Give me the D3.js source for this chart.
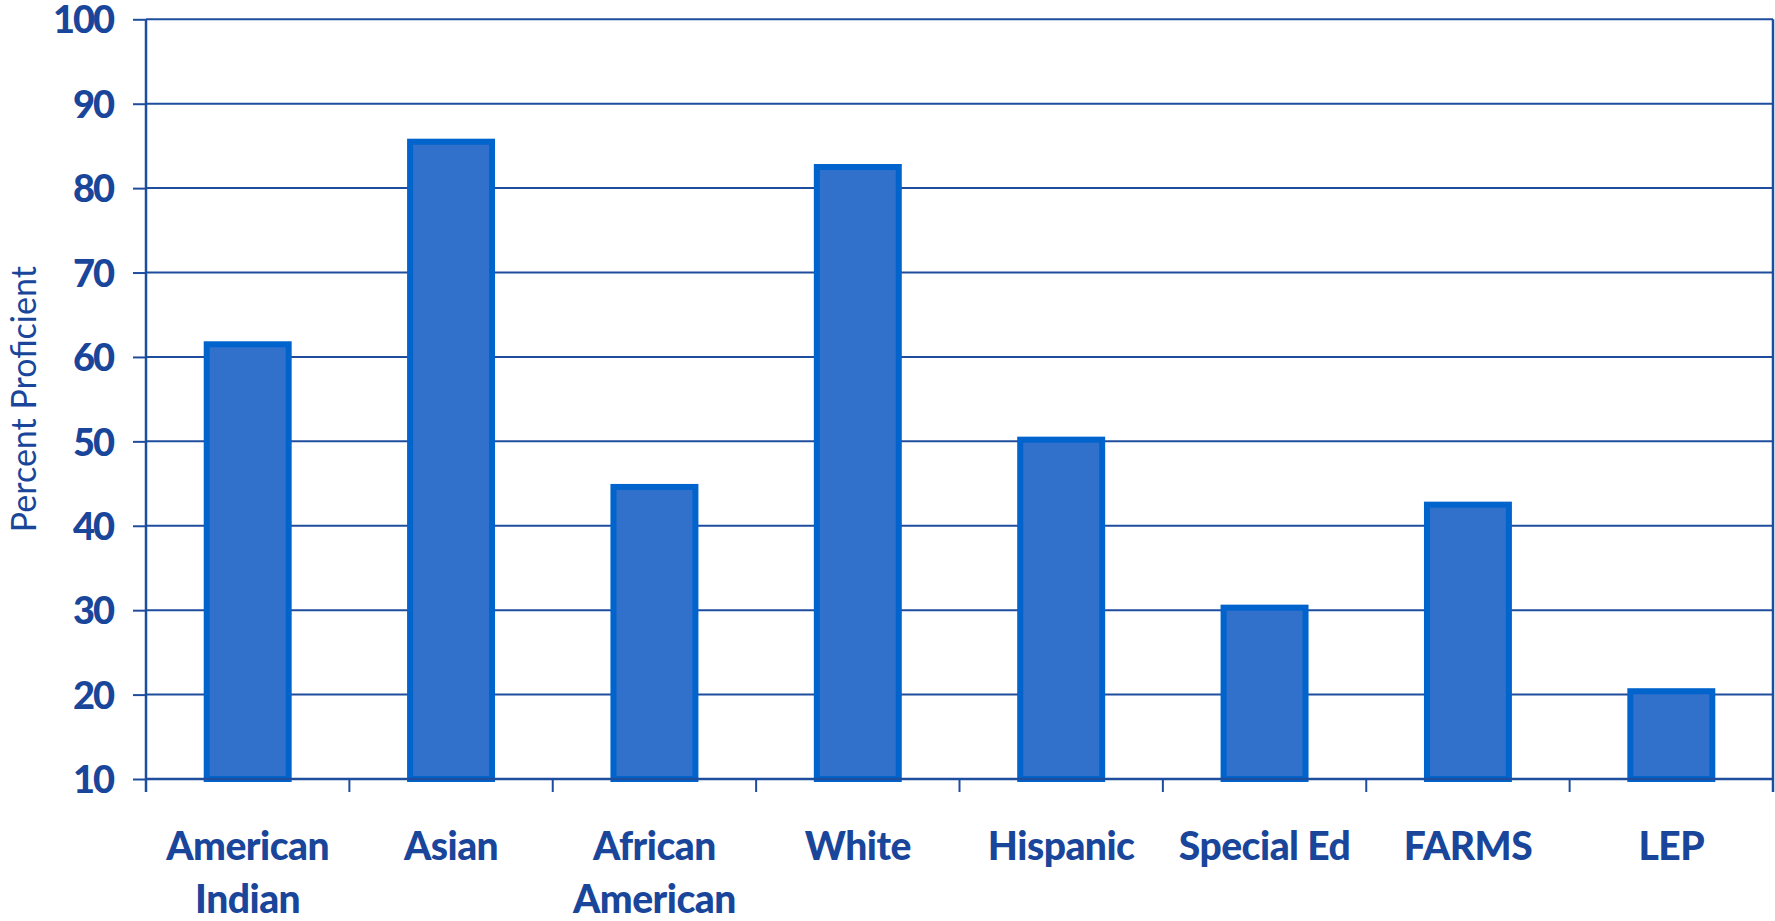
<!DOCTYPE html>
<html>
<head>
<meta charset="utf-8">
<script src="https://cdn.jsdelivr.net/npm/d3@7/dist/d3.min.js"></script>
<style>
  html, body { margin: 0; padding: 0; background: #ffffff; }
  svg { display: block; }
</style>
</head>
<body>
<svg id="chart" width="1775" height="921"></svg>
<script>
// Percent proficient by student group
const categories = [["American", "Indian"], ["Asian"], ["African", "American"], ["White"],
                    ["Hispanic"], ["Special Ed"], ["FARMS"], ["LEP"]];
const values = [61.5, 85.5, 44.6, 82.5, 50.2, 30.3, 42.5, 20.4];
const yTicks = [10, 20, 30, 40, 50, 60, 70, 80, 90, 100];
const yLabel = "Percent Proficient";

const ink = "#19469a";
const gridColor = "#1f4d9e";
const barFill = "#3170cb";
const barStroke = "#0064cc";
const fontFamily = "Lato, 'Open Sans', sans-serif";

const svg = d3.select("#chart");
const plotLeft = 146, plotRight = 1773, plotTop = 19.3, plotBottom = 779;
const keys = categories.map(c => c.join(" "));

const x = d3.scaleBand()
  .domain(keys)
  .range([plotLeft, plotRight])
  .paddingInner(0.597)
  .paddingOuter(0.2985);

const y = d3.scaleLinear()
  .domain([10, 100])
  .range([plotBottom, plotTop]);

// horizontal gridlines
svg.append("g")
  .selectAll("line")
  .data(yTicks)
  .join("line")
  .attr("x1", plotLeft).attr("x2", plotRight)
  .attr("y1", d => y(d)).attr("y2", d => y(d))
  .attr("stroke", gridColor).attr("stroke-width", 2);

// right border
svg.append("line")
  .attr("x1", plotRight).attr("x2", plotRight)
  .attr("y1", plotTop).attr("y2", plotBottom + 13)
  .attr("stroke", gridColor).attr("stroke-width", 2.5);

// bars
svg.append("g")
  .selectAll("rect")
  .data(values)
  .join("rect")
  .attr("x", (d, i) => x(keys[i]))
  .attr("width", x.bandwidth())
  .attr("y", d => y(d))
  .attr("height", d => y(10) - y(d))
  .attr("fill", barFill)
  .attr("stroke", barStroke)
  .attr("stroke-width", 6);

// y axis
const yAxis = svg.append("g")
  .attr("transform", `translate(${plotLeft},0)`)
  .call(d3.axisLeft(y).tickValues(yTicks).tickSize(13).tickPadding(20).tickFormat(d3.format("d")));
yAxis.select(".domain").attr("stroke", gridColor).attr("stroke-width", 2.5)
  .attr("d", `M0,${plotTop}V${plotBottom + 13}`);
yAxis.selectAll(".tick line").attr("stroke", gridColor).attr("stroke-width", 2);
yAxis.selectAll(".tick text")
  .attr("fill", ink)
  .attr("dy", "0.36em")
  .style("font-family", fontFamily)
  .style("font-weight", "900")
  .style("font-size", "38px")
  .style("letter-spacing", "-2px");

// x axis ticks between categories
const xAxis = svg.append("g")
  .attr("transform", `translate(0,${plotBottom})`);
xAxis.append("line")
  .attr("x1", plotLeft).attr("x2", plotRight)
  .attr("y1", 0).attr("y2", 0)
  .attr("stroke", gridColor).attr("stroke-width", 2.5);
const boundaries = keys.map(k => x(k) - x.step() * x.paddingInner() / 2).concat([plotRight]);
xAxis.selectAll("line.sep")
  .data(boundaries)
  .join("line")
  .attr("class", "sep")
  .attr("x1", d => d).attr("x2", d => d)
  .attr("y1", 0).attr("y2", 13)
  .attr("stroke", gridColor).attr("stroke-width", 2);

// category labels
const labels = xAxis.selectAll("text.cat")
  .data(categories)
  .join("text")
  .attr("class", "cat")
  .attr("text-anchor", "middle")
  .attr("fill", ink)
  .style("font-family", fontFamily)
  .style("font-weight", "900")
  .style("font-size", "39px")
  .style("letter-spacing", "-0.5px")
  .attr("x", (d, i) => x(keys[i]) + x.bandwidth() / 2)
  .attr("y", 81);
labels.selectAll("tspan")
  .data(d => d)
  .join("tspan")
  .attr("x", function () { return d3.select(this.parentNode).attr("x"); })
  .attr("dy", (d, i) => i === 0 ? 0 : 53)
  .text(d => d);

// y axis title
svg.append("text")
  .attr("transform", `translate(36,${(plotTop + plotBottom) / 2}) rotate(-90)`)
  .attr("text-anchor", "middle")
  .attr("fill", ink)
  .style("font-family", fontFamily)
  .style("font-size", "34px")
  .text(yLabel);
</script>
</body>
</html>
